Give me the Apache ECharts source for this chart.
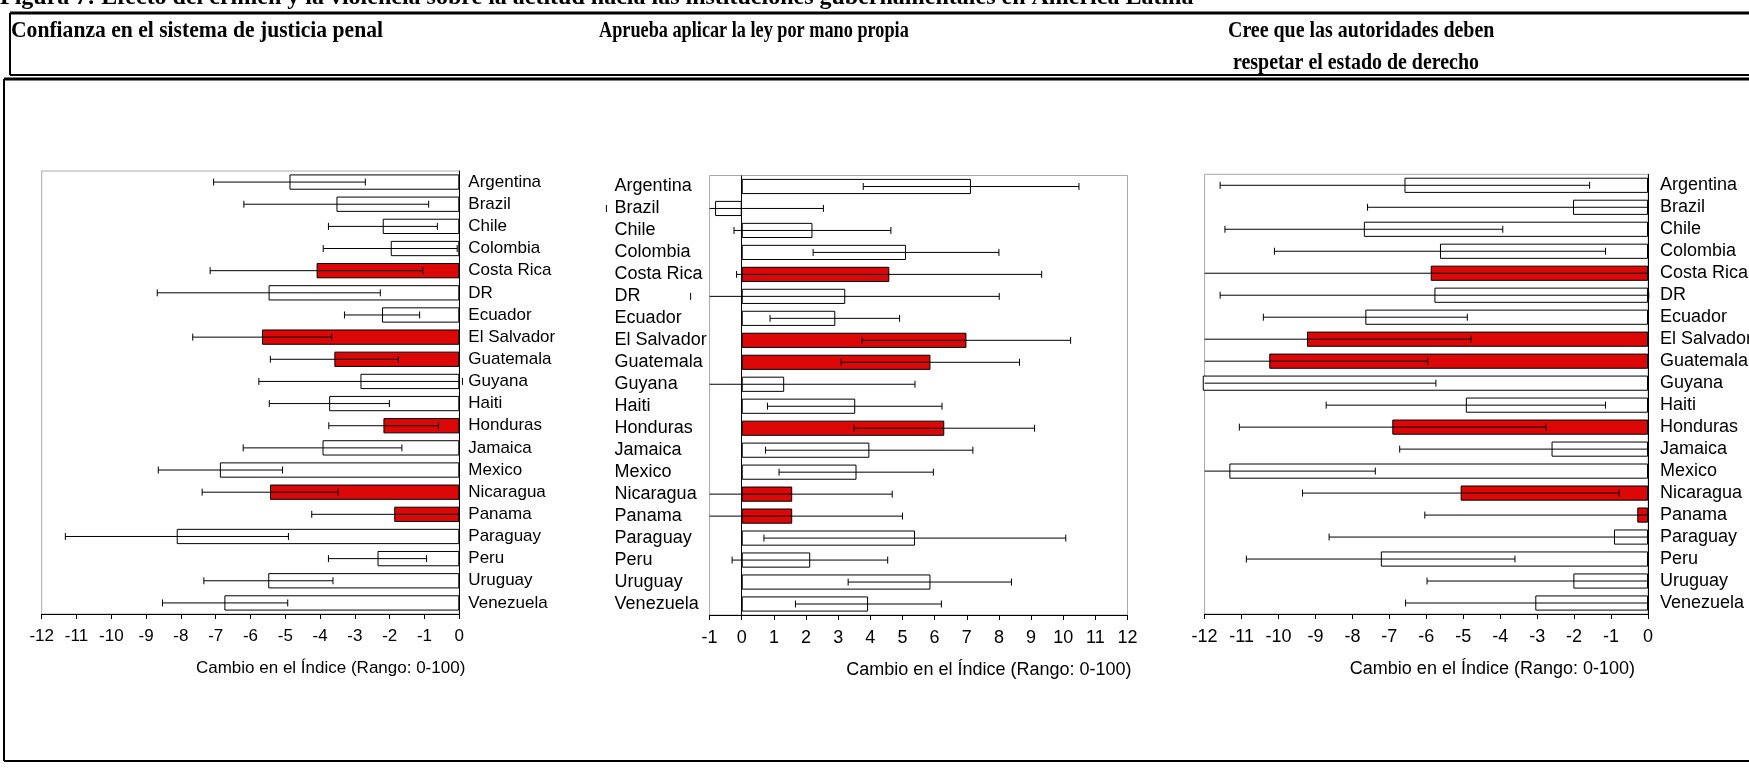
<!DOCTYPE html>
<html>
<head>
<meta charset="utf-8">
<script src="https://cdn.jsdelivr.net/npm/echarts@6/dist/echarts.min.js"></script>
<style>
  html, body { margin: 0; padding: 0; background: #fff; }
  #chart { width: 1749px; height: 769px; }
</style>
</head>
<body>
<div id="chart"></div>
<script>
// paises (mismo orden en los tres paneles)
const categories = ['Argentina', 'Brazil', 'Chile', 'Colombia', 'Costa Rica', 'DR', 'Ecuador',
  'El Salvador', 'Guatemala', 'Guyana', 'Haiti', 'Honduras', 'Jamaica', 'Mexico', 'Nicaragua',
  'Panama', 'Paraguay', 'Peru', 'Uruguay', 'Venezuela'];
const highlighted = ['Costa Rica', 'El Salvador', 'Guatemala', 'Honduras', 'Nicaragua', 'Panama'];

// Confianza en el sistema de justicia penal
const confianzaVal = [-4.88, -3.53, -2.20, -1.97, -4.10, -5.48, -2.22, -5.67, -3.59, -2.84,
  -3.74, -2.18, -3.93, -6.88, -5.44, -1.87, -8.12, -2.35, -5.49, -6.75];
const confianzaLo = [-7.06, -6.19, -3.76, -3.91, -7.16, -8.68, -3.30, -7.66, -5.43, -5.76,
  -5.46, -3.75, -6.21, -8.65, -7.39, -4.24, -11.32, -3.76, -7.34, -8.53];
const confianzaHi = [-2.70, -0.88, -0.63, -0.06, -1.05, -2.27, -1.14, -3.67, -1.75, 0.09,
  -2.01, -0.60, -1.65, -5.08, -3.48, 0.00, -4.91, -0.94, -3.63, -4.93];

// Aprueba aplicar la ley por mano propia
const apruebaVal = [7.13, -0.83, 2.20, 5.11, 4.59, 3.22, 2.91, 6.99, 5.87, 1.32,
  3.53, 6.30, 3.97, 3.57, 1.57, 1.57, 5.39, 2.13, 5.87, 3.93];
const apruebaLo = [3.78, -4.21, -0.24, 2.22, -0.16, -1.59, 0.88, 3.74, 3.09, -5.0,
  0.80, 3.49, 0.74, 1.16, -5.0, -5.0, 0.69, -0.30, 3.31, 1.67];
const apruebaHi = [10.49, 2.54, 4.64, 8.00, 9.33, 8.01, 4.91, 10.23, 8.64, 5.39,
  6.23, 9.11, 7.19, 5.96, 4.68, 5.00, 10.08, 4.54, 8.39, 6.21];

// Cree que las autoridades deben respetar el estado de derecho
const respetarVal = [-6.59, -2.03, -7.69, -5.63, -5.88, -5.78, -7.65, -9.23, -10.25, -12.05,
  -4.93, -6.92, -2.61, -11.33, -5.07, -0.29, -0.92, -7.23, -2.02, -3.05];
const respetarLo = [-11.58, -7.59, -11.45, -10.11, -14.0, -11.58, -10.41, -14.0, -14.0, -14.0,
  -8.71, -11.06, -6.72, -14.0, -9.35, -6.04, -8.63, -10.87, -5.98, -6.56];
const respetarHi = [-1.58, 0.00, -3.93, -1.15, 0.00, 0.02, -4.89, -4.79, -5.96, -5.74,
  -1.15, -2.76, 0.00, -7.38, -0.78, 0.00, 0.00, -3.60, 0.00, 0.00];

const panelTitles = ['Confianza en el sistema de justicia penal', 'Aprueba aplicar la ley por mano propia',
  'Cree que las autoridades deben\n respetar el estado de derecho'];
const figureTitle = 'Figura 7: Efecto del crimen y la violencia sobre la actitud hacia las instituciones gubernamentales en América Latina';
const axisTitle = 'Cambio en el Índice (Rango: 0-100)';

const RED = '#dc0808';
const SANS = 'Arial, "Liberation Sans", sans-serif';
const SERIF = '"Times New Roman", "Liberation Serif", serif';

const panels = [
  { val: confianzaVal, lo: confianzaLo, hi: confianzaHi, min: -12, max: 0, fs: 17,
    grid: { left: 41.7, right: 1289.7, top: 171, bottom: 155 }, labelSide: 'right',
    labelMargin: 9, capWin: [0, 470], nameGap: 6 },
  { val: apruebaVal, lo: apruebaLo, hi: apruebaHi, min: -1, max: 12, fs: 18,
    grid: { left: 709.6, right: 621.5, top: 175.5, bottom: 154 }, labelSide: 'left',
    labelMargin: 95, capWin: [598, 1160], nameGap: 4 },
  { val: respetarVal, lo: respetarLo, hi: respetarHi, min: -12, max: 0, fs: 18,
    grid: { left: 1204.6, right: 101, top: 174.3, bottom: 155 }, labelSide: 'right',
    labelMargin: 12, capWin: [1190, 1749], nameGap: -13 }
];

const grids = [], xAxes = [], yAxes = [], series = [];

panels.forEach((p, k) => {
  grids.push(Object.assign({ show: true, borderColor: '#a8a8a8', borderWidth: 1,
    backgroundColor: 'transparent', containLabel: false, outerBoundsMode: 'none' }, p.grid));

  xAxes.push({
    gridIndex: k, type: 'value', min: p.min, max: p.max, interval: 1,
    axisLine: { show: true, onZero: false, lineStyle: { color: '#000', width: 1 } },
    axisTick: { show: true, length: 5, lineStyle: { color: '#000' } },
    axisLabel: { fontSize: p.fs, color: '#000', fontFamily: SANS, margin: 14 },
    splitLine: { show: false },
    name: axisTitle, nameLocation: 'end', nameGap: p.nameGap,
    nameTextStyle: { fontSize: p.fs, color: '#000', fontFamily: SANS, align: 'right',
      verticalAlign: 'top', padding: [46, 0, 0, 0] }
  });

  yAxes.push({
    gridIndex: k, type: 'category', data: categories, inverse: true,
    position: p.labelSide,
    axisLine: { show: p.labelSide === 'right', onZero: false, lineStyle: { color: '#000', width: 1 } },
    axisTick: { show: false },
    axisLabel: { fontSize: p.fs, color: '#000', fontFamily: SANS, interval: 0,
      align: 'left', margin: p.labelMargin }
  });

  const bar = {
    type: 'bar', xAxisIndex: k, yAxisIndex: k, barCategoryGap: '31%', clip: false,
    data: p.val.map((v, i) => ({
      value: v,
      itemStyle: { color: highlighted.includes(categories[i]) ? RED : '#fff' }
    })),
    itemStyle: { borderColor: '#000', borderWidth: 1 },
    z: 2
  };
  if (p.min < 0 && p.max > 0) {
    // linea vertical en cero
    bar.markLine = { silent: true, symbol: 'none', animation: false,
      label: { show: false }, lineStyle: { color: '#000', width: 1, type: 'solid' },
      data: [{ xAxis: 0 }] };
  }
  series.push(bar);

  series.push({
    type: 'custom', xAxisIndex: k, yAxisIndex: k, clip: false, z: 3,
    encode: { x: [1, 2], y: 0 },
    data: categories.map((c, i) => [i, p.lo[i], p.hi[i]]),
    renderItem: function (params, api) {
      const i = api.value(0), lo = api.value(1), hi = api.value(2);
      const y = api.coord([0, i])[1];
      const x1 = api.coord([Math.max(lo, p.min), i])[0];
      const x2 = api.coord([Math.min(hi, p.max), i])[0];
      const style = { stroke: '#000', lineWidth: 1 };
      const kids = [{ type: 'line', shape: { x1: x1, y1: y, x2: x2, y2: y }, style: style }];
      [lo, hi].forEach(v => {
        const cx = api.coord([v, i])[0];
        if (cx >= p.capWin[0] && cx <= p.capWin[1]) {
          kids.push({ type: 'line', shape: { x1: cx, y1: y - 3.5, x2: cx, y2: y + 3.5 }, style: style });
        }
      });
      return { type: 'group', children: kids };
    }
  });
});

const headFont = 'bold 24px ' + SERIF;
const chart = echarts.init(document.getElementById('chart'));
chart.setOption({
  animation: false,
  grid: grids,
  xAxis: xAxes,
  yAxis: yAxes,
  series: series,
  graphic: [
    { type: 'text', left: 0, top: -14, style: { text: figureTitle, font: headFont, fill: '#000' } },
    { type: 'line', shape: { x1: 10, y1: 13, x2: 1749, y2: 13 }, style: { stroke: '#000', lineWidth: 3 } },
    { type: 'line', shape: { x1: 10, y1: 13, x2: 10, y2: 75 }, style: { stroke: '#000', lineWidth: 2 } },
    { type: 'line', shape: { x1: 10, y1: 75, x2: 1749, y2: 75 }, style: { stroke: '#000', lineWidth: 2 } },
    { type: 'line', shape: { x1: 4, y1: 79, x2: 1749, y2: 79 }, style: { stroke: '#000', lineWidth: 3 } },
    { type: 'line', shape: { x1: 4, y1: 79, x2: 4, y2: 761 }, style: { stroke: '#000', lineWidth: 2 } },
    { type: 'line', shape: { x1: 4, y1: 761, x2: 1749, y2: 761 }, style: { stroke: '#000', lineWidth: 2 } },
    { type: 'text', x: 11, y: 15, scaleX: 0.9, style: { text: panelTitles[0], font: headFont, fill: '#000', lineHeight: 32 } },
    { type: 'text', x: 599, y: 15, scaleX: 0.76, style: { text: panelTitles[1], font: headFont, fill: '#000', lineHeight: 32 } },
    { type: 'text', x: 1228, y: 15, scaleX: 0.83, style: { text: panelTitles[2], font: headFont, fill: '#000', lineHeight: 32 } }
  ]
});
window.addEventListener('resize', () => chart.resize());
</script>
</body>
</html>
